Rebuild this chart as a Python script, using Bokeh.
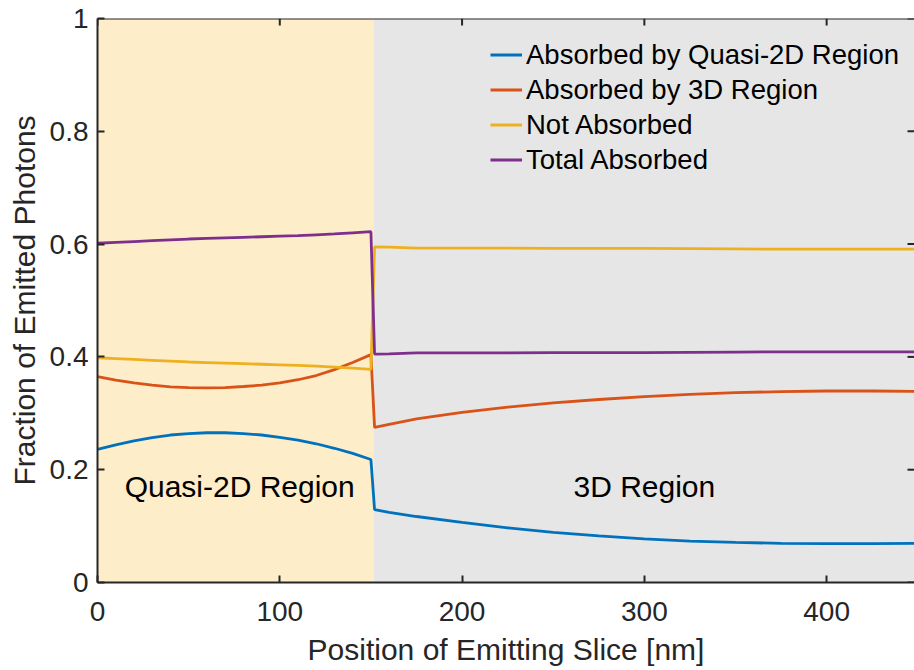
import math

from bokeh.plotting import figure
from bokeh.models import FixedTicker, Range1d, Legend, LegendItem, Span
from bokeh.core.properties import value
from bokeh.embed import file_html
from bokeh.resources import INLINE

FONT = "Liberation Sans"
INK = "#262626"

# Position of the emitting slice [nm]
position_nm = [0, 10, 20, 30, 40, 50, 60, 70, 80, 90, 100, 110, 120, 130, 140, 150,
               152, 160, 175, 200, 225, 250, 275, 300, 325, 350, 375, 400, 425, 448]

# Fraction of emitted photons for each outcome
absorbed_quasi2d = [0.236, 0.244, 0.251, 0.257, 0.2615, 0.264, 0.2655, 0.2655, 0.264, 0.2615,
                    0.2575, 0.2525, 0.246, 0.238, 0.229, 0.218,
                    0.129, 0.1245, 0.117, 0.1065, 0.097, 0.089, 0.0825, 0.0775, 0.0735, 0.071,
                    0.0695, 0.069, 0.069, 0.0695]
absorbed_3d = [0.365, 0.359, 0.354, 0.350, 0.347, 0.3455, 0.345, 0.3455, 0.3475, 0.350,
               0.354, 0.3595, 0.367, 0.3775, 0.390, 0.404,
               0.275, 0.2805, 0.290, 0.3015, 0.311, 0.3185, 0.3245, 0.3295, 0.3335, 0.3365,
               0.3385, 0.3395, 0.3395, 0.339]
not_absorbed = [0.3985, 0.397, 0.3955, 0.394, 0.3925, 0.391, 0.390, 0.389, 0.388, 0.387,
                0.386, 0.385, 0.3835, 0.382, 0.380, 0.378,
                0.595, 0.5945, 0.593, 0.593, 0.593, 0.5925, 0.5925, 0.5925, 0.592, 0.5915,
                0.591, 0.591, 0.591, 0.591]
total_absorbed = [0.6015, 0.603, 0.6045, 0.606, 0.6075, 0.609, 0.610, 0.611, 0.612, 0.613,
                  0.614, 0.615, 0.6165, 0.618, 0.620, 0.622,
                  0.405, 0.4055, 0.407, 0.407, 0.407, 0.4075, 0.4075, 0.4075, 0.408, 0.4085,
                  0.409, 0.409, 0.409, 0.409]

series_names = ["Absorbed by Quasi-2D Region", "Absorbed by 3D Region",
                "Not Absorbed", "Total Absorbed"]
series_colors = ["#0072BD", "#D95319", "#EDB120", "#7E2F8E"]

# Device layers
region_left = [0, 151.5]
region_right = [151.5, 460]
region_names = ["Quasi-2D Region", "3D Region"]
region_colors = ["#FDEDC9", "#E6E6E6"]
region_label_x = [78, 300]
region_label_y = [0.171, 0.171]

x_ticks = [0, 100, 200, 300, 400]
y_ticks = [0, 0.2, 0.4, 0.6, 0.8, 1]
y_tick_labels = ["0", "0.2", "0.4", "0.6", "0.8", "1"]

X_MAX = 448.2
TICK_LEN = 7

p = figure(width=914, height=670, x_range=Range1d(0, X_MAX), y_range=Range1d(0, 1),
           output_backend="svg", toolbar_location=None,
           min_border_left=97, min_border_right=0, min_border_top=18, min_border_bottom=88,
           background_fill_color="white", outline_line_color=None)
p.grid.visible = False

p.quad(left=region_left, right=region_right, bottom=0, top=1,
       fill_color=region_colors, line_color=None)

p.text(x=region_label_x, y=region_label_y, text=region_names,
       text_font=value(FONT), text_font_size=value("30px"), text_color="black",
       text_align="center", text_baseline="middle")

renderers = []
for ys, c in zip([absorbed_quasi2d, absorbed_3d, not_absorbed, total_absorbed], series_colors):
    r = p.line(position_nm, ys, line_color=c, line_width=2.8)
    renderers.append(r)

# Box edges: top line plus inward ticks on the top and right sides
p.add_layout(Span(location=1, dimension="width", line_color=INK, line_width=2))
p.ray(x=x_ticks, y=[1] * len(x_ticks), length=TICK_LEN, length_units="screen",
      angle=-math.pi / 2, line_color=INK, line_width=2)
p.ray(x=[X_MAX] * len(y_ticks), y=y_ticks, length=TICK_LEN, length_units="screen",
      angle=math.pi, line_color=INK, line_width=2)

legend = Legend(items=[LegendItem(label=n, renderers=[r]) for n, r in zip(series_names, renderers)],
                location=(393, 405), orientation="vertical",
                label_text_font=FONT, label_text_font_size="27.5px", label_text_color="black",
                glyph_width=32, glyph_height=35, label_height=35, label_standoff=4,
                spacing=0, padding=0, margin=0,
                background_fill_alpha=0, border_line_color=None)
p.add_layout(legend, "center")


def style_axis(ax):
    ax.axis_line_color = INK
    ax.axis_line_width = 2
    ax.major_tick_line_color = INK
    ax.major_tick_line_width = 2
    ax.major_tick_in = TICK_LEN
    ax.major_tick_out = 0
    ax.minor_tick_line_color = None
    ax.major_label_text_font = FONT
    ax.major_label_text_font_size = "28px"
    ax.major_label_text_color = INK
    ax.axis_label_text_font = FONT
    ax.axis_label_text_font_size = "30px"
    ax.axis_label_text_font_style = "normal"
    ax.axis_label_text_color = INK


xa = p.xaxis[0]
xa.ticker = FixedTicker(ticks=x_ticks)
xa.axis_label = "Position of Emitting Slice [nm]"
style_axis(xa)
xa.major_label_standoff = 19
xa.axis_label_standoff = 9

ya = p.yaxis[0]
ya.ticker = FixedTicker(ticks=y_ticks)
ya.major_label_overrides = {t: s for t, s in zip(y_ticks, y_tick_labels)}
ya.axis_label = "Fraction of Emitted Photons"
style_axis(ya)
ya.major_label_standoff = 9
ya.axis_label_standoff = 6

open("out.html", "w").write(file_html(p, INLINE))
